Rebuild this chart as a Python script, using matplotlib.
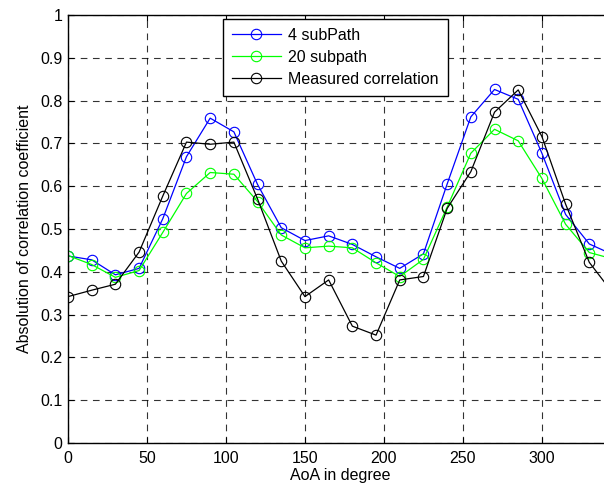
import matplotlib.pyplot as plt

plt.rcParams['font.family'] = ['Liberation Sans', 'DejaVu Sans']

aoa = [0, 15, 30, 45, 60, 75, 90, 105, 120, 135, 150, 165,
       180, 195, 210, 225, 240, 255, 270, 285, 300, 315, 330, 345]
sub4 = [0.437, 0.428, 0.393, 0.408, 0.524, 0.669, 0.759, 0.727, 0.604, 0.503, 0.473, 0.484,
        0.464, 0.435, 0.408, 0.442, 0.605, 0.762, 0.826, 0.803, 0.677, 0.534, 0.465, 0.44]
sub20 = [0.438, 0.417, 0.387, 0.403, 0.492, 0.583, 0.632, 0.628, 0.564, 0.486, 0.456, 0.460,
         0.456, 0.421, 0.389, 0.429, 0.551, 0.677, 0.733, 0.706, 0.618, 0.511, 0.445, 0.43]
measured = [0.342, 0.357, 0.371, 0.446, 0.577, 0.703, 0.698, 0.703, 0.570, 0.425, 0.342, 0.381,
            0.273, 0.252, 0.381, 0.389, 0.548, 0.634, 0.773, 0.825, 0.716, 0.558, 0.422, 0.35]

fs = 11.5
fig = plt.figure(figsize=(6.04, 4.88), dpi=100)
ax = fig.add_axes([68/604, 45/488, 545/604, 428/488])

mk = dict(marker='o', markerfacecolor='none', markersize=7.5, linewidth=0.9, markeredgewidth=0.8)
ax.plot(aoa, sub4, color='#0000ff', label='4 subPath', **mk)
ax.plot(aoa, sub20, color='#00ff00', label='20 subpath', **mk)
ax.plot(aoa, measured, color='black', label='Measured correlation', **mk)

ax.set_xlim(0, 345)
ax.set_ylim(0, 1)
ax.set_xticks([0, 50, 100, 150, 200, 250, 300])
ax.set_yticks([i / 10 for i in range(11)])
ax.set_yticklabels(['0', '0.1', '0.2', '0.3', '0.4', '0.5', '0.6', '0.7', '0.8', '0.9', '1'])
ax.tick_params(direction='in', top=True, right=True, labelsize=fs, length=4, width=0.8, pad=4)
ax.tick_params(axis='x', pad=6)
ax.grid(True, color='black', linestyle=(0, (6, 5)), linewidth=0.8, alpha=0.8)
for s in ax.spines.values():
    s.set_linewidth(1.0)

ax.set_xlabel('AoA in degree', fontsize=fs, labelpad=1)
ax.set_ylabel('Absolution of correlation coefficient', fontsize=fs, labelpad=6)

leg = ax.legend(loc='upper left', bbox_to_anchor=(0.284, 0.991), borderaxespad=0,
                fontsize=fs, fancybox=False, framealpha=1, edgecolor='black',
                handlelength=3.1, labelspacing=0.45, borderpad=0.55, handletextpad=0.45)
leg.get_frame().set_linewidth(1.0)

fig.savefig('out.png', dpi=100)
